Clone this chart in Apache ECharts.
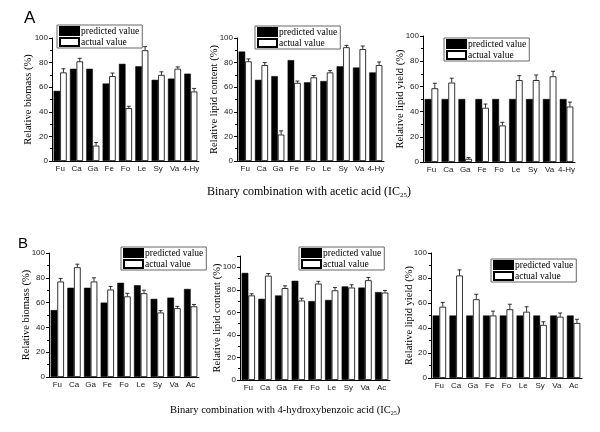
<!DOCTYPE html>
<html><head><meta charset="utf-8">
<script src="https://cdn.jsdelivr.net/npm/echarts@6/dist/echarts.min.js"></script>
<style>html,body{margin:0;padding:0;background:#fff}#c{width:600px;height:432px}</style>
</head><body><div id="c"></div>
<script>
var catsA = ['Fu','Ca','Ga','Fe','Fo','Le','Sy','Va','4-Hy'];
var catsB = ['Fu','Ca','Ga','Fe','Fo','Le','Sy','Va','Ac'];
var yTicks = [0,20,40,60,80,100];

// Panel A: binary combination with acetic acid
var a1Pred = [57,75,75,63,79,77,66,67,71];
var a1Act  = [72,81,12.5,69,43,90,70,75,56.5];
var a1Err  = [3,2.5,2.5,2.5,1.5,3,2.5,1.5,2.5];
var a2Pred = [89,66,69,82,64,65,77,76,72];
var a2Act  = [81,78,21.5,63.5,68,72,92.5,91,78];
var a2Err  = [2,2,3,1.5,1.5,1.5,1.5,2.5,2.5];
var a3Pred = [50,50,50,50,50,50,50,50,50];
var a3Act  = [58.5,63,2.5,43,29,65,65,68,44];
var a3Err  = [4,3.5,1,3,2.5,3.5,4,4,3.5];
// Panel B: binary combination with 4-hydroxybenzoic acid
var b1Pred = [54,72,72,60,76,74,63,64,71];
var b1Act  = [77,88.5,77,70.5,65,67.5,52,55.5,57];
var b1Err  = [2.5,2.5,3,2.5,2.5,2.5,1.5,1.5,1.5];
var b2Pred = [95,72,75,88,70,71,83,82,78];
var b2Act  = [75,92.5,81.5,70.5,85.5,79.5,82,88.5,77.5];
var b2Err  = [1.5,2,2,2,2,2.5,2.5,2.5,2];
var b3Pred = [50,50,50,50,50,50,50,50,50];
var b3Act  = [57,82,63,50,55,53,42.5,49,44];
var b3Err  = [3.5,4.5,4,3.5,4,4,2.5,3,3];

var panels = [
  {cats:catsA, pred:a1Pred, act:a1Act, err:a1Err, name:'Relative biomass (%)', max:100, g:{left:52,top:38,width:147,height:123}, lg:{left:57,top:25}, ng:18},
  {cats:catsA, pred:a2Pred, act:a2Act, err:a2Err, name:'Relative lipid content (%)', max:100, g:{left:237,top:38,width:147,height:123}, lg:{left:255,top:26}, ng:17},
  {cats:catsA, pred:a3Pred, act:a3Act, err:a3Err, name:'Relative lipid yield (%)', max:100, g:{left:423,top:36,width:152,height:126}, lg:{left:444,top:38}, ng:17},
  {cats:catsB, pred:b1Pred, act:b1Act, err:b1Err, name:'Relative biomass (%)', max:100, g:{left:49,top:253,width:150,height:124}, lg:{left:121,top:247}, ng:17},
  {cats:catsB, pred:b2Pred, act:b2Act, err:b2Err, name:'Relative lipid content (%)', max:110, g:{left:240,top:256,width:150,height:124}, lg:{left:299,top:247}, ng:17},
  {cats:catsB, pred:b3Pred, act:b3Act, err:b3Err, name:'Relative lipid yield (%)', max:100, g:{left:431,top:253,width:151,height:125}, lg:{left:491,top:259}, ng:16}
];

var SERIF = '"Liberation Serif","Times New Roman",serif';
var SANS = '"Liberation Sans",Arial,sans-serif';
var GAP = 0.2;

var grid=[], xAxis=[], yAxis=[], series=[], legend=[];
panels.forEach(function(p, i){
  grid.push(p.g);
  xAxis.push({type:'category', gridIndex:i, data:p.cats,
    axisLine:{lineStyle:{color:'#000',width:1}}, axisTick:{show:false},
    axisLabel:{color:'#222', fontFamily:SANS, fontSize:8, margin:4, interval:0}});
  yAxis.push({type:'value', gridIndex:i, min:0, max:p.max, interval:20,
    name:p.name, nameLocation:'middle', nameGap:p.ng, nameMoveOverlap:false,
    nameTextStyle:{fontFamily:SERIF, fontSize:10.5, color:'#000'},
    axisLine:{show:true, lineStyle:{color:'#000',width:1}},
    axisTick:{show:true, inside:false, length:3, lineStyle:{color:'#000'}},
    minorTick:{show:true, splitNumber:2, length:2, lineStyle:{color:'#000'}},
    splitLine:{show:false},
    axisLabel:{color:'#222', fontFamily:SANS, fontSize:8, margin:4, showMaxLabel: p.max===100}});
  series.push({type:'bar', name:'predicted value', xAxisIndex:i, yAxisIndex:i, data:p.pred,
    barGap:'0%', barCategoryGap:(GAP*100)+'%', itemStyle:{color:'#000', borderColor:'#000', borderWidth:0.5}, silent:true});
  series.push({type:'bar', name:'actual value', xAxisIndex:i, yAxisIndex:i, data:p.act,
    barGap:'0%', barCategoryGap:(GAP*100)+'%', itemStyle:{color:'#fff', borderColor:'#000', borderWidth:0.8}, silent:true});
  var ed = p.act.map(function(v,k){return [k, v, p.err[k]];});
  series.push({type:'custom', name:'err'+i, xAxisIndex:i, yAxisIndex:i, data:ed, silent:true, z:5,
    renderItem:function(params, api){
      var k=api.value(0), v=api.value(1), e=api.value(2);
      var band=api.size([1,0])[0];
      var bw=band*(1-GAP)/2;
      var p0=api.coord([k, v]); var p1=api.coord([k, v+e]);
      var x=p0[0]+bw/2;
      return {type:'group', children:[
        {type:'line', shape:{x1:x,y1:p0[1],x2:x,y2:p1[1]}, style:{stroke:'#000',lineWidth:0.8}},
        {type:'line', shape:{x1:x-2,y1:p1[1],x2:x+2,y2:p1[1]}, style:{stroke:'#000',lineWidth:0.8}}
      ]};
    }});
  legend.push({left:p.lg.left, top:p.lg.top, orient:'vertical', itemWidth:19, itemHeight:8, itemGap:1,
    padding:[1,3,1,2], borderColor:'#666', borderWidth:1, selectedMode:false, icon:'rect',
    textStyle:{fontFamily:SERIF, fontSize:9.5, color:'#000', padding:[0,0,0,-3]},
    data:['predicted value','actual value']});
});

function sub(sz){ return {a:{fontFamily:SERIF, fontSize:sz, fontWeight:'normal', color:'#000'},
  s:{fontFamily:SERIF, fontSize:Math.round(sz*0.6), fontWeight:'normal', color:'#000', padding:[Math.round(sz*0.55),0,0,0]}}; }

var chart = echarts.init(document.getElementById('c'), null, {renderer:'canvas'});
chart.setOption({
  animation:false,
  backgroundColor:'#fff',
  title:[
    {text:'A', left:24, top:10, padding:0, textStyle:{fontFamily:SANS, fontSize:17, fontWeight:'normal', color:'#000'}},
    {text:'B', left:18, top:236, padding:0, textStyle:{fontFamily:SANS, fontSize:15, fontWeight:'normal', color:'#000'}},
    {text:'{a|Binary combination with acetic acid (IC}{s|25}{a|)}', left:207, top:185, padding:0,
      textStyle:{fontWeight:'normal', rich:sub(12)}},
    {text:'{a|Binary combination with 4-hydroxybenzoic acid (IC}{s|25}{a|)}', left:170, top:404, padding:0,
      textStyle:{fontWeight:'normal', rich:sub(10.5)}}
  ],
  legend:legend, grid:grid, xAxis:xAxis, yAxis:yAxis, series:series
});
</script></body></html>
